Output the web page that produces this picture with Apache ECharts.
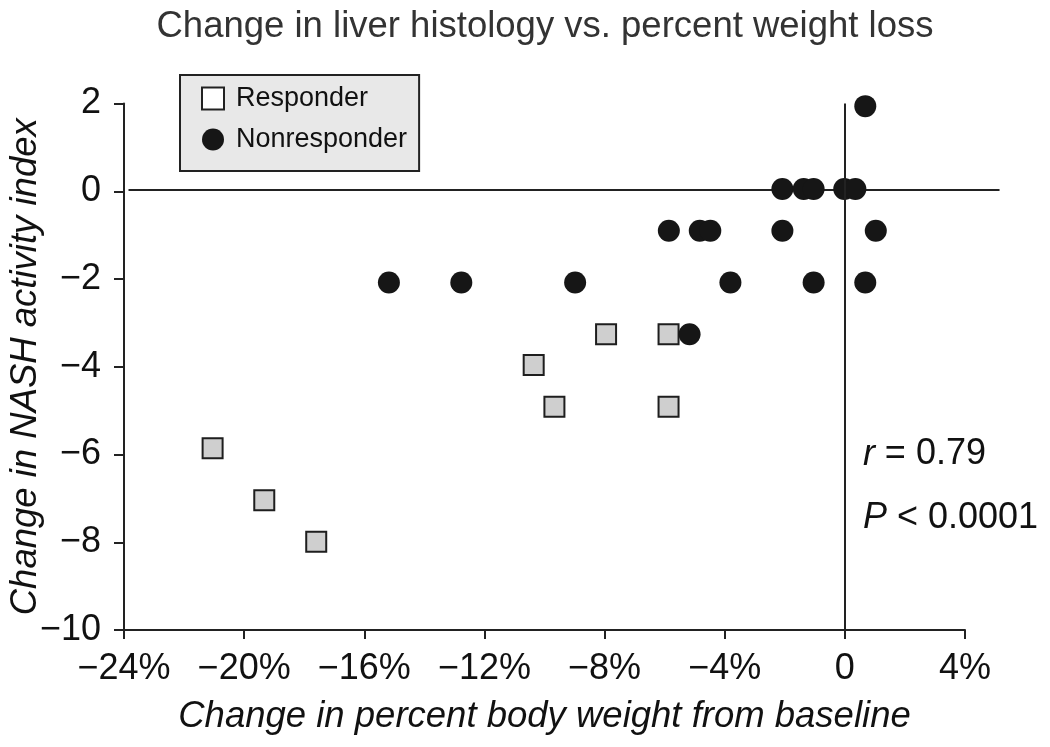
<!DOCTYPE html>
<html>
<head>
<meta charset="utf-8">
<script src="https://cdn.jsdelivr.net/npm/echarts@6/dist/echarts.min.js"></script>
<style>
html,body{margin:0;padding:0;background:#fff;}
#chart{width:1050px;height:747px;}
</style>
</head>
<body>
<div id="chart"></div>
<script>
// ---- data (x: % change in body weight, y: change in NASH activity index) ----
const responderX = [-21.05, -19.33, -17.60, -10.36, -9.67, -7.95, -5.87, -5.87];
const responderY = [-5.86, -7.04, -7.99, -3.96, -4.91, -3.26, -3.26, -4.91];

const nonresponderX = [-15.18, -12.77, -8.98, -3.81, -1.04, 0.68,
                       -5.86, -4.83, -4.48, -2.08, 1.03,
                       -2.08, -1.37, -1.04, -0.02, 0.35,
                       0.68, -5.17];
const nonresponderY = [-2.08, -2.08, -2.08, -2.08, -2.08, -2.08,
                       -0.9, -0.9, -0.9, -0.9, -0.9,
                       0.05, 0.05, 0.05, 0.05, 0.05,
                       1.94, -3.26];

const xTickValues = [-24, -20, -16, -12, -8, -4, 0, 4];
const xTickLabels = ['\u221224%', '\u221220%', '\u221216%', '\u221212%', '\u22128%', '\u22124%', '0', '4%'];
const yTickValues = [2, 0, -2, -4, -6, -8, -10];
const yTickLabels = ['2', '0', '\u22122', '\u22124', '\u22126', '\u22128', '\u221210'];

const seriesNames = ['Responder', 'Nonresponder'];
const titleText = 'Change in liver histology vs. percent weight loss';
const xAxisTitle = 'Change in percent body weight from baseline';
const yAxisTitle = 'Change in NASH activity index';
const statR = '0.79';
const statP = '0.0001';
// reference lines
const zeroY = 0.03;
const zeroX = 0;
const hLineFrom = -23.85;
const hLineTo = 5.15;

const pair = (xs, ys) => xs.map((x, i) => [x, ys[i]]);
const FONT = '"Liberation Sans", Arial, Helvetica, sans-serif';

const chart = echarts.init(document.getElementById('chart'), null, {renderer: 'canvas'});

const option = {
  backgroundColor: '#ffffff',
  animation: false,
  textStyle: {fontFamily: FONT},
  title: {
    text: titleText,
    left: 540,
    textAlign: 'center',
    top: 3,
    textStyle: {fontFamily: FONT, fontSize: 36.5, fontWeight: 'normal', color: '#333333'}
  },
  legend: {
    orient: 'vertical',
    left: 180,
    top: 75,
    padding: [10, 12, 18, 21],
    itemGap: 14,
    itemWidth: 22,
    itemHeight: 22,
    backgroundColor: '#e8e8e8',
    borderColor: '#222222',
    borderWidth: 2,
    borderRadius: 0,
    textStyle: {fontFamily: FONT, fontSize: 27, color: '#111111', padding: [0, 0, 0, 7]},
    data: [
      {name: seriesNames[0], icon: 'rect', itemStyle: {color: '#ffffff', borderColor: '#222222', borderWidth: 2}},
      {name: seriesNames[1], icon: 'circle', itemStyle: {color: '#161616'}}
    ]
  },
  grid: {left: 124, right: 85, top: 103.5, bottom: 117, containLabel: false, outerBoundsMode: 'none'},
  xAxis: {
    type: 'value',
    min: -24, max: 4, interval: 4,
    name: xAxisTitle,
    nameLocation: 'middle',
    nameGap: 68,
    nameMoveOverlap: false,
    nameTextStyle: {fontFamily: FONT, fontSize: 36.5, fontStyle: 'italic', color: '#111111'},
    axisLine: {show: true, onZero: false, lineStyle: {color: '#222222', width: 2}},
    axisTick: {show: true, inside: false, length: 9, lineStyle: {color: '#222222', width: 2}},
    axisLabel: {
      margin: 21, fontFamily: FONT, fontSize: 36, color: '#111111',
      formatter: v => { const i = xTickValues.indexOf(v); return i >= 0 ? xTickLabels[i] : ''; }
    },
    splitLine: {show: false}
  },
  yAxis: {
    type: 'value',
    min: -10, max: 2, interval: 2,
    name: yAxisTitle,
    nameLocation: 'middle',
    nameGap: 80,
    nameRotate: 90,
    nameMoveOverlap: false,
    nameTextStyle: {fontFamily: FONT, fontSize: 36.5, fontStyle: 'italic', color: '#111111'},
    axisLine: {show: true, onZero: false, lineStyle: {color: '#222222', width: 2}},
    axisTick: {show: true, inside: false, length: 10, lineStyle: {color: '#222222', width: 2}},
    axisLabel: {
      margin: 23, fontFamily: FONT, fontSize: 36, color: '#111111',
      formatter: v => { const i = yTickValues.indexOf(v); return i >= 0 ? yTickLabels[i] : ''; }
    },
    splitLine: {show: false}
  },
  series: [
    {
      name: seriesNames[0],
      type: 'scatter',
      symbol: 'rect',
      symbolSize: 20,
      z: 3,
      itemStyle: {color: '#cfcfcf', borderColor: '#1e1e1e', borderWidth: 2, opacity: 1},
      data: pair(responderX, responderY)
    },
    {
      name: seriesNames[1],
      type: 'scatter',
      symbol: 'circle',
      symbolSize: 22,
      z: 4,
      itemStyle: {color: '#161616', opacity: 1},
      data: pair(nonresponderX, nonresponderY),
      markLine: {
        silent: true,
        symbol: ['none', 'none'],
        label: {show: false},
        lineStyle: {color: '#222222', width: 2, type: 'solid'},
        data: [{xAxis: zeroX}]
      }
    }
  ]
};

chart.setOption(option);

function drawExtras() {
  const p1 = chart.convertToPixel({gridIndex: 0}, [hLineFrom, zeroY]);
  const p2 = chart.convertToPixel({gridIndex: 0}, [hLineTo, zeroY]);
  const a = chart.convertToPixel({gridIndex: 0}, [0.6, -6.0]);
  const b = chart.convertToPixel({gridIndex: 0}, [0.6, -7.45]);
  chart.setOption({
    graphic: [
      {
        type: 'line', z: 1, silent: true,
        shape: {x1: p1[0], y1: p1[1], x2: p2[0], y2: p2[1]},
        style: {stroke: '#222222', lineWidth: 2}
      },
      {
        type: 'text', z: 5, silent: true,
        x: a[0], y: a[1],
        style: {
          text: '{i|r} = ' + statR,
          rich: {i: {fontFamily: FONT, fontSize: 36, fontStyle: 'italic', fill: '#111111'}},
          fontFamily: FONT, fontSize: 36, fill: '#111111',
          verticalAlign: 'middle', align: 'left'
        }
      },
      {
        type: 'text', z: 5, silent: true,
        x: b[0], y: b[1],
        style: {
          text: '{i|P} < ' + statP,
          rich: {i: {fontFamily: FONT, fontSize: 36, fontStyle: 'italic', fill: '#111111'}},
          fontFamily: FONT, fontSize: 36, fill: '#111111',
          verticalAlign: 'middle', align: 'left'
        }
      }
    ]
  });
}
drawExtras();
</script>
</body>
</html>
